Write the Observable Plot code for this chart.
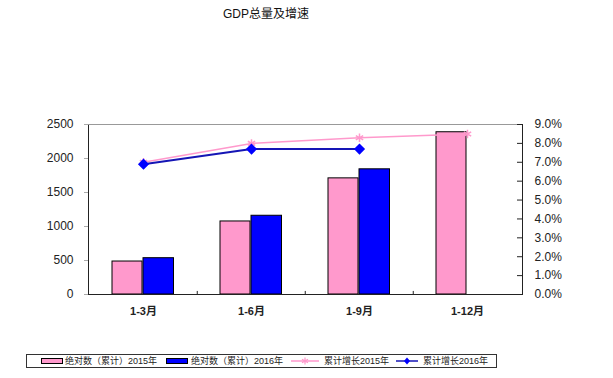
<!DOCTYPE html>
<html>
<head>
<meta charset="utf-8">
<script src="https://cdn.jsdelivr.net/npm/d3@7"></script>
<script src="https://cdn.jsdelivr.net/npm/@observablehq/plot@0.6"></script>
<style>
  body { margin: 0; background: white; font-family: "Liberation Sans", "Noto Sans CJK SC", sans-serif; }
  #wrap { position: relative; width: 613px; height: 378px; }
  #title { position: absolute; top: 6px; left: 0; width: 532px; text-align: center; font-size: 12px; line-height: 16px; color: #111; }
  #chart { position: absolute; top: 28px; left: 0; }
  #legend { position: absolute; left: 26px; top: 354px; width: 471px; height: 14px; box-sizing: border-box; border: 1px solid #333; font-size: 9px; line-height: 12px; color: #222; }
  #legend .it { position: absolute; top: 0; white-space: nowrap; }
  #legend .sw { position: absolute; top: 3px; width: 22px; height: 6px; box-sizing: border-box; border: 1px solid #000; }
  #legend svg { position: absolute; top: 0; }
</style>
</head>
<body>
<div id="wrap">
  <div id="title">GDP总量及增速</div>
  <div id="chart"></div>
  <div id="legend"></div>
</div>
<script>
const categories = ["1-3月", "1-6月", "1-9月", "1-12月"];
const gdp2015 = [485, 1074, 1708, 2386];
const gdp2016 = [534, 1158, 1841, null];
const growth2015 = [7.0, 8.0, 8.3, 8.5];
const growth2016 = [6.9, 7.7, 7.7, null];
const leftTicks = [0, 500, 1000, 1500, 2000, 2500];
const rightTicks = [0, 1, 2, 3, 4, 5, 6, 7, 8, 9];
const seriesNames = ["绝对数（累计）2015年", "绝对数（累计）2016年", "累计增长2015年", "累计增长2016年"];

const pink = "#FF99CC", blue = "#0000FF", navy = "#1515B5";
const leftMax = 2500, rightMax = 9;
const toLeft = v => v * leftMax / rightMax;

const rows = (vals) => categories.map((c, i) => ({cat: c, v: vals[i]})).filter(d => d.v != null);
const bars15 = rows(gdp2015), bars16 = rows(gdp2016);
const line15 = rows(growth2015).map(d => ({cat: d.cat, v: toLeft(d.v)}));
const line16 = rows(growth2016).map(d => ({cat: d.cat, v: toLeft(d.v)}));

const plotW = 613 - 88 - 91;
const band = plotW / categories.length;

const chart = Plot.plot({
  width: 613, height: 320,
  marginLeft: 88, marginRight: 91, marginTop: 96, marginBottom: 54,
  x: {domain: categories, padding: 0, axis: null, label: null},
  y: {domain: [0, leftMax], axis: null, label: null},
  style: {fontFamily: '"Liberation Sans", "Noto Sans CJK SC", sans-serif', fontSize: "12px", color: "#222", background: "white", overflow: "visible"},
  marks: [
    Plot.barY(bars15, {x: "cat", y: "v", fill: pink, stroke: "#000", strokeWidth: 1, insetLeft: 23, insetRight: 55}),
    Plot.barY(bars16, {x: "cat", y: "v", fill: blue, stroke: "#000", strokeWidth: 1, insetLeft: 54, insetRight: 23.5}),
    Plot.frame({stroke: "#222"}),
    Plot.ruleY([leftMax], {stroke: "#999"}),
    Plot.ruleX(categories.slice(1), {y1: 0, y2: 45, dx: -band / 2, stroke: "#222"}),
    Plot.axisY(leftTicks, {anchor: "left", tickSize: 4, tickPadding: 11, stroke: "#aaa", fill: "#222", label: null, tickFormat: d3.format("d")}),
    Plot.axisY(rightTicks.map(toLeft), {anchor: "right", tickSize: 0, tickPadding: 12, fill: "#222", label: null,
      tickFormat: d => (d * rightMax / leftMax).toFixed(1) + "%"}),
    Plot.axisY(rightTicks.map(toLeft), {anchor: "right", tickSize: 6, dx: -6, stroke: "#222", label: null, tickFormat: () => ""}),
    Plot.axisX({tickSize: 0, tickPadding: 13, fontWeight: "bold", fontSize: 11, fill: "#222", label: null}),
    Plot.line(line15, {x: "cat", y: "v", stroke: pink, strokeWidth: 1.5}),
    Plot.dot(line15, {x: "cat", y: "v", symbol: "asterisk", r: 4, stroke: pink, strokeWidth: 1.5}),
    Plot.line(line16, {x: "cat", y: "v", stroke: navy, strokeWidth: 2}),
    Plot.dot(line16, {x: "cat", y: "v", symbol: "square", rotate: 45, r: 3.6, fill: blue, stroke: blue})
  ]
});
document.getElementById("chart").appendChild(chart);

const lg = document.getElementById("legend");
lg.innerHTML = `
  <div class="sw" style="left:14px;background:${pink}"></div>
  <div class="it" style="left:38px">${seriesNames[0]}</div>
  <div class="sw" style="left:139px;background:${blue}"></div>
  <div class="it" style="left:164px">${seriesNames[1]}</div>
  <svg style="left:264px" width="28" height="12"><line x1="0" y1="6" x2="28" y2="6" stroke="${pink}" stroke-width="1.5"/><path d="M14,2.5V9.5M11,4.2L17,7.8M17,4.2L11,7.8" stroke="${pink}" stroke-width="1.2"/></svg>
  <div class="it" style="left:297px">${seriesNames[2]}</div>
  <svg style="left:369px" width="22" height="12"><line x1="0" y1="6" x2="22" y2="6" stroke="${navy}" stroke-width="1.5"/><path d="M11,2.5L14,6L11,9.5L8,6Z" fill="${blue}"/></svg>
  <div class="it" style="left:396px">${seriesNames[3]}</div>
`;
</script>
</body>
</html>
